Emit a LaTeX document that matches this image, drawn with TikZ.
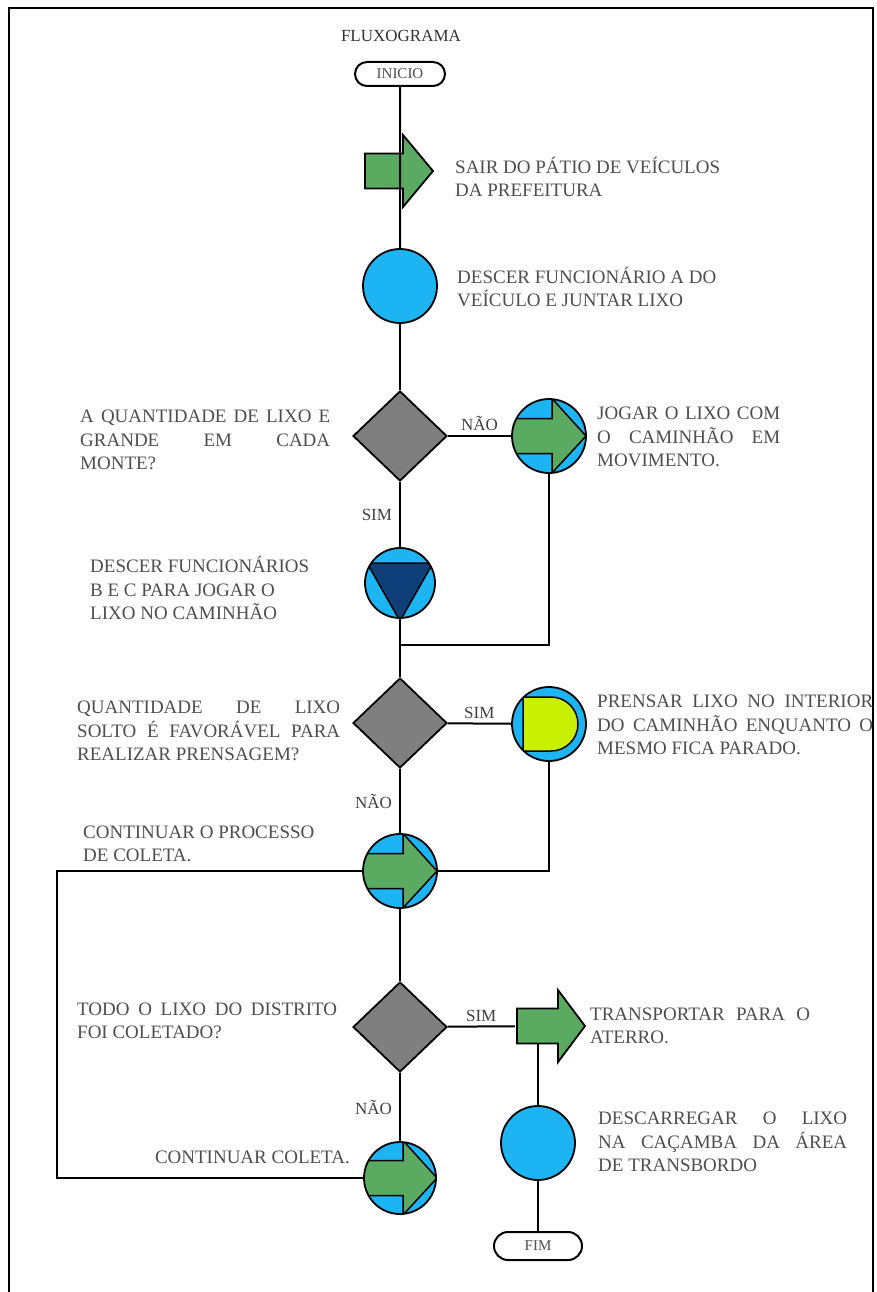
\documentclass[tikz,border=0pt]{standalone}
\usepackage{fontspec}
\setmainfont{Liberation Serif}
\usetikzlibrary{shapes.geometric,shapes.misc}
\definecolor{boxgreen}{HTML}{5BAA62}
\definecolor{ballblue}{HTML}{1CB4F2}
\definecolor{decgray}{HTML}{7F7F7F}
\definecolor{navyblue}{HTML}{0F3F78}
\definecolor{limegreen}{HTML}{C8F000}
\definecolor{txtgray}{HTML}{4E4E4E}

\begin{document}
\begin{tikzpicture}[x=1pt, y=-1pt,
  term/.style={draw, line width=2pt, rounded rectangle, minimum width=90pt, inner sep=0pt, text=txtgray, font=\fontsize{15}{15}\selectfont},
  ball/.style={circle, draw, line width=1.8pt, fill=ballblue, minimum size=74pt, inner sep=0pt},
  ballgo/.style={ball, path picture={
    \filldraw[fill=boxgreen, line width=1.5pt]
      ([shift={(-40,-17.5)}]path picture bounding box.center) -- ++(43,0) -- ++(0,-20)
      -- ([shift={(37,0)}]path picture bounding box.center)
      -- ([shift={(3,37)}]path picture bounding box.center) -- ++(0,-19.5) -- ++(-43,0) -- cycle;}},
  balldown/.style={ball, path picture={
    \filldraw[fill=navyblue, line width=1.5pt]
      ([shift={(-33,-20)}]path picture bounding box.center) -- ++(66,0)
      -- ([shift={(0,38)}]path picture bounding box.center) -- cycle;}},
  ballpress/.style={ball, path picture={
    \filldraw[fill=limegreen, line width=1.5pt]
      ([shift={(-26,-27)}]path picture bounding box.center) -- ++(28,0)
      arc[start angle=-90, end angle=90, radius=27] -- ++(-28,0) -- cycle;}},
  decision/.style={diamond, draw, line width=1.8pt, fill=decgray, minimum width=94pt, minimum height=90pt, inner sep=0pt},
  go/.style={rectangle, minimum width=72pt, minimum height=78pt, inner sep=0pt, path picture={
    \filldraw[fill=boxgreen, line width=1.8pt]
      ([shift={(-34,-17.5)}]path picture bounding box.center) -- ++(#1,0) -- ++(0,-18.5)
      -- ([shift={(34,0)}]path picture bounding box.center)
      -- ([shift={(-34+#1,36)}]path picture bounding box.center) -- ++(0,-18.5) -- ++(-#1,0) -- cycle;}},
  note/.style={anchor=west, align=left, inner sep=0pt, text=txtgray, font=\fontsize{19}{23.5}\selectfont},
  jnote/.style={note, align=justify},
  answer/.style={inner sep=0pt, text=black!75, font=\fontsize{17}{17}\selectfont},
  link/.style={line width=2pt},
  back/.style={line width=2.6pt}]

\useasboundingbox (0,0) rectangle (876,1292);
\draw[line width=2pt] (9,1292) -- (9,8) -- (873,8) -- (873,1292);

\node[text=black!80, font=\fontsize{17}{17}\selectfont] (title) at (401,36) {FLUXOGRAMA};
\node[term, minimum height=24pt] (ini) at (400,74) {INICIO};

% main column
\node[go=38] (sair) at (399,171) {};
\node[ball] (c1) at (400,286) {};
\node[decision] (d1) at (400,436) {};
\node[balldown, minimum size=70pt] (ct) at (400,583) {};
\coordinate (j1) at (400,645);
\node[decision] (d2) at (400,723) {};
\node[ballgo] (ca2) at (400,871) {};
\node[decision] (d3) at (400,1027) {};
\node[ballgo, minimum size=72pt] (ca3) at (400,1178) {};

% right column
\node[ballgo] (ca1) at (549,436) {};
\node[ballpress] (cd) at (549,724) {};
\node[go=41] (arr2) at (551,1026) {};
\coordinate (a2foot) at (538,1043);
\node[ball] (c2) at (538,1143) {};
\node[term, minimum height=28pt, minimum width=88pt] (fim) at (538,1246) {FIM};
\coordinate (lp) at (57,1024);

% texts
\node[note] (sairt) at (455,177) {SAIR DO PÁTIO DE VEÍCULOS\\DA PREFEITURA};
\node[note] (c1t) at (457,287) {DESCER FUNCIONÁRIO A DO\\VEÍCULO E JUNTAR LIXO};
\node[jnote, text width=250pt] (d1t) at (80,440) {A QUANTIDADE DE LIXO E\linebreak GRANDE EM CADA\linebreak MONTE?};
\node[note] (ctt) at (90,588) {DESCER FUNCIONÁRIOS\\B E C PARA JOGAR O\\LIXO NO CAMINHÃO};
\node[jnote, text width=183pt] (ca1t) at (597,437) {JOGAR O LIXO COM\linebreak O CAMINHÃO EM\linebreak MOVIMENTO.};
\node[jnote, text width=263pt] (d2t) at (77,731) {QUANTIDADE DE LIXO\linebreak SOLTO É FAVORÁVEL PARA\linebreak REALIZAR PRENSAGEM?};
\node[jnote, text width=276pt] (cdt) at (597,725) {PRENSAR LIXO NO INTERIOR\linebreak DO CAMINHÃO ENQUANTO O\linebreak MESMO FICA PARADO.};
\node[note] (ca2t) at (83,844) {CONTINUAR O PROCESSO\\DE COLETA.};
\node[jnote, text width=260pt] (d3t) at (77,1021) {TODO O LIXO DO DISTRITO\linebreak FOI COLETADO?};
\node[note, anchor=east] (ca3t) at (350,1157) {CONTINUAR COLETA.};
\node[jnote, text width=220pt] (arr2t) at (590,1026) {TRANSPORTAR PARA O\linebreak ATERRO.};
\node[jnote, text width=249pt] (c2t) at (598,1142) {DESCARREGAR O LIXO\linebreak NA CAÇAMBA DA ÁREA\linebreak DE TRANSBORDO};

% connectors
\draw[link] (ini) -- (c1);
\draw[link] (c1) -- (d1);
\draw[link] (d1) -- node[answer, left=7pt] {SIM} (ct);
\draw[link] (d1) -- node[answer, above=4pt] {NÃO} (ca1);
\draw[link] (ct) -- (d2);
\draw[link] (ca1) |- (j1);
\draw[link] (d2) -- node[answer, above=4pt] {SIM} (cd);
\draw[link] (d2) -- node[answer, left=7pt] {NÃO} (ca2);
\draw[link] (cd) |- (ca2);
\draw[link] (ca2) -- (d3);
\draw[link] (d3) -- node[answer, left=7pt] {NÃO} (ca3);
\draw[link] (d3) -- node[answer, above=4pt] {SIM} (arr2);
\draw[link] (a2foot) -- (c2);
\draw[link] (c2) -- (fim);
\draw[back] (ca3) -| (lp) |- (ca2);
\end{tikzpicture}
\end{document}
